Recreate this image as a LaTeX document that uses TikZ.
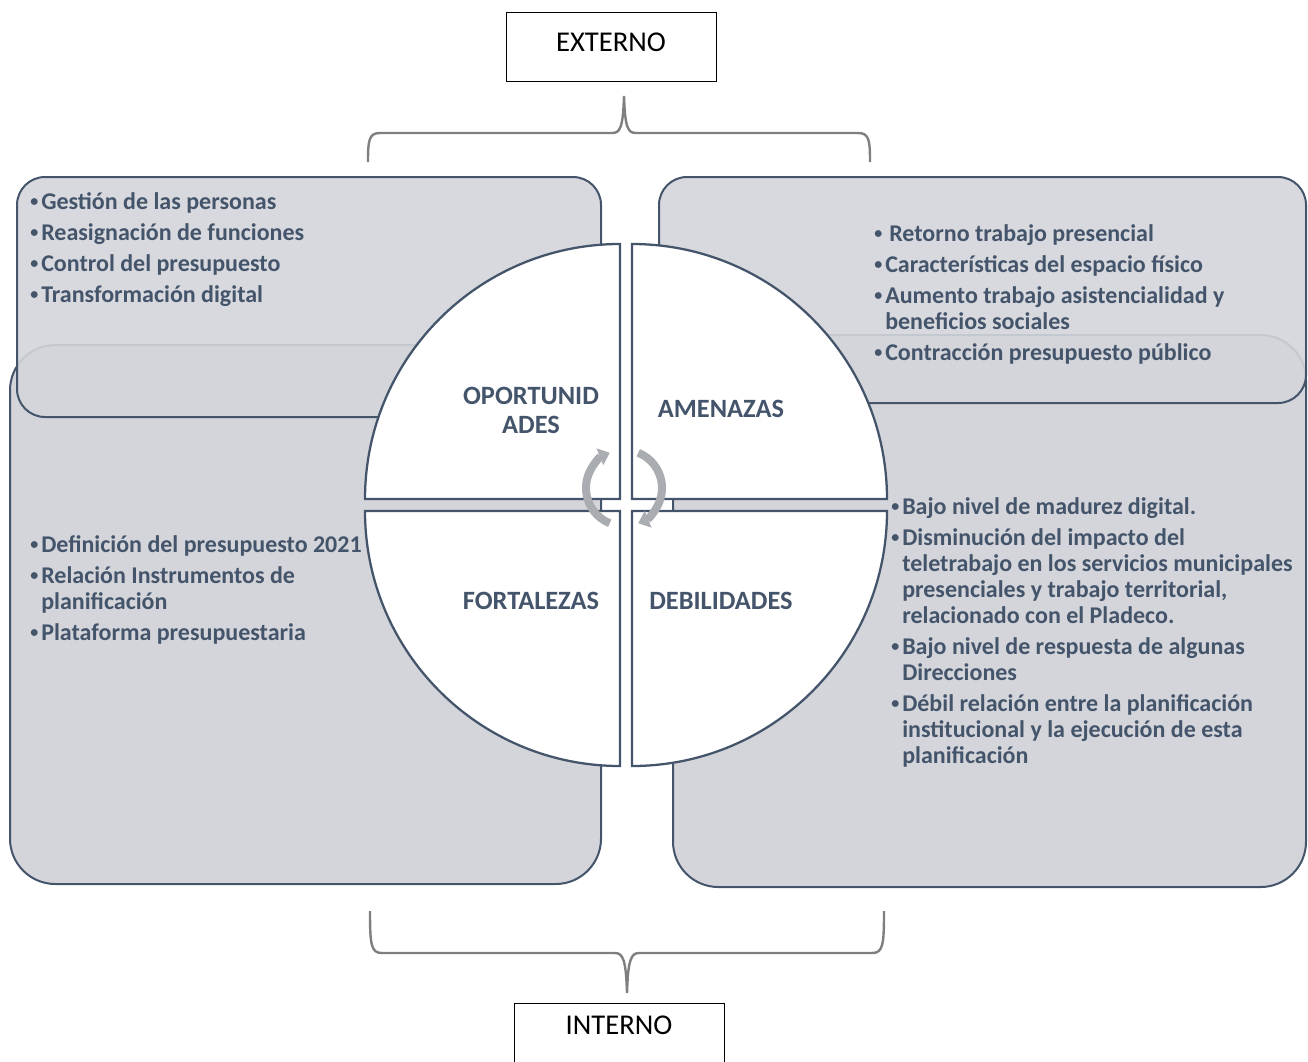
\documentclass[tikz,border=0pt]{standalone}
\usepackage{fontspec}
\setmainfont{Carlito}
\usetikzlibrary{arrows.meta}

\definecolor{txtblue}{HTML}{44546A}
\definecolor{boxgray}{HTML}{D3D5DA}
\definecolor{bracegray}{HTML}{7F7F7F}
\definecolor{cycgray}{HTML}{A9ACB1}

\newcommand{\bul}{\makebox[9pt][l]{\hspace{0.8pt}\raisebox{2pt}{\fontsize{12}{12}\selectfont•}}}
\newcommand{\cont}{\hspace*{9pt}}

\begin{document}
\begin{tikzpicture}[x=0.75pt, y=-0.75pt,
  sidebox/.style={draw=txtblue, line width=1.5pt, fill=boxgray},
  quad/.style={draw=txtblue, line width=1.7pt, fill=white},
  brace/.style={draw=bracegray, line width=1.8pt},
  cyc/.style={draw=cycgray, line width=6pt, -{Triangle[length=8pt, width=13pt]}},
  lbl/.style={text=txtblue, font=\fontsize{19.8}{21.75}\selectfont\bfseries, align=center},
  itemtext/.style={text=txtblue, font=\fontsize{18}{19.5}\selectfont\bfseries, inner sep=0pt, anchor=base west},
  sidetag/.style={draw=black, line width=0.75pt, fill=white, minimum width=157.5pt, minimum height=51.75pt,
    font=\fontsize{21.5}{24}\selectfont, text height=12.75pt}]
  \useasboundingbox (0,0) rectangle (1308,1061);
  \clip (0,0) rectangle (1308,1061);

  % corner boxes
  \draw[sidebox, rounded corners=34pt] (10,345) rectangle (601,884);
  \draw[sidebox, rounded corners=34pt] (673,335) rectangle (1306,887);
  \draw[sidebox, fill opacity=0.9, rounded corners=21pt] (17,177) rectangle (601,417);
  \draw[sidebox, fill opacity=0.9, rounded corners=21pt] (659,177) rectangle (1306,403);

  % circle in four parts
  \coordinate (ctl) at (620,499);
  \coordinate (ctr) at (632,499);
  \coordinate (cbl) at (620,511);
  \coordinate (cbr) at (632,511);
  \draw[quad] (ctl) -- ++(-255,0) arc[start angle=180, end angle=90, radius=191.25pt] -- cycle;
  \draw[quad] (ctr) -- ++(0,-255) arc[start angle=90, end angle=0, radius=191.25pt] -- cycle;
  \draw[quad] (cbl) -- ++(0,255) arc[start angle=270, end angle=180, radius=191.25pt] -- cycle;
  \draw[quad] (cbr) -- ++(255,0) arc[start angle=0, end angle=-90, radius=191.25pt] -- cycle;

  \coordinate (cyc) at (624,488);
  \draw[cyc] (cyc) ++(248:28.5pt) arc[start angle=248, end angle=112, radius=28.5pt];
  \draw[cyc] (cyc) ++(68:28.5pt) arc[start angle=68, end angle=-68, radius=28.5pt];

  \node[lbl] (opp) at (531,410) {OPORTUNID\\ADES};
  \node[lbl] (thr) at (721,409) {AMENAZAS};
  \node[lbl] (str) at (531,601) {FORTALEZAS};
  \node[lbl] (wea) at (721,601) {DEBILIDADES};

  % lists
  \node[itemtext] (opplist) at (29,209) {\begin{tabular}[t]{@{}l@{}}
    \bul Gestión de las personas\\[3.75pt]
    \bul Reasignación de funciones\\[3.75pt]
    \bul Control del presupuesto\\[3.75pt]
    \bul Transformación digital
  \end{tabular}};
  \node[itemtext] (thrlist) at (873,241) {\begin{tabular}[t]{@{}l@{}}
    \bul\hspace{3pt}Retorno trabajo presencial\\[3.75pt]
    \bul Características del espacio físico\\[3.75pt]
    \bul Aumento trabajo asistencialidad y\\
    \cont beneficios sociales\\[3.75pt]
    \bul Contracción presupuesto público
  \end{tabular}};
  \node[itemtext] (strlist) at (29,552) {\begin{tabular}[t]{@{}l@{}}
    \bul Definición del presupuesto 2021\\[3.75pt]
    \bul Relación Instrumentos de\\
    \cont planificación\\[3.75pt]
    \bul Plataforma presupuestaria
  \end{tabular}};
  \node[itemtext] (wealist) at (890,514) {\begin{tabular}[t]{@{}l@{}}
    \bul Bajo nivel de madurez digital.\\[3.75pt]
    \bul Disminución del impacto del\\
    \cont teletrabajo en los servicios municipales\\
    \cont presenciales y trabajo territorial,\\
    \cont relacionado con el Pladeco.\\[3.75pt]
    \bul Bajo nivel de respuesta de algunas\\
    \cont Direcciones\\[3.75pt]
    \bul Débil relación entre la planificación\\
    \cont institucional y la ejecución de esta\\
    \cont planificación
  \end{tabular}};

  % braces and tags
  \draw[brace] (368,162) .. controls (368,140) and (369,133) .. (380,133) -- (612,133)
    .. controls (620,133) and (623,128) .. (624,96) .. controls (625,128) and (628,133) .. (636,133)
    -- (858,133) .. controls (869,133) and (870,140) .. (870,162);
  \draw[brace] (370,911) .. controls (370,945) and (371,953) .. (382,953) -- (615,953)
    .. controls (623,953) and (626,960) .. (627,993) .. controls (628,960) and (631,953) .. (639,953)
    -- (872,953) .. controls (883,953) and (884,945) .. (884,911);

  \node[sidetag, text depth=6pt] (ext) at (611,46.5) {EXTERNO};
  \node[sidetag, text depth=18pt] (int) at (619,1037.5) {INTERNO};
\end{tikzpicture}
\end{document}
